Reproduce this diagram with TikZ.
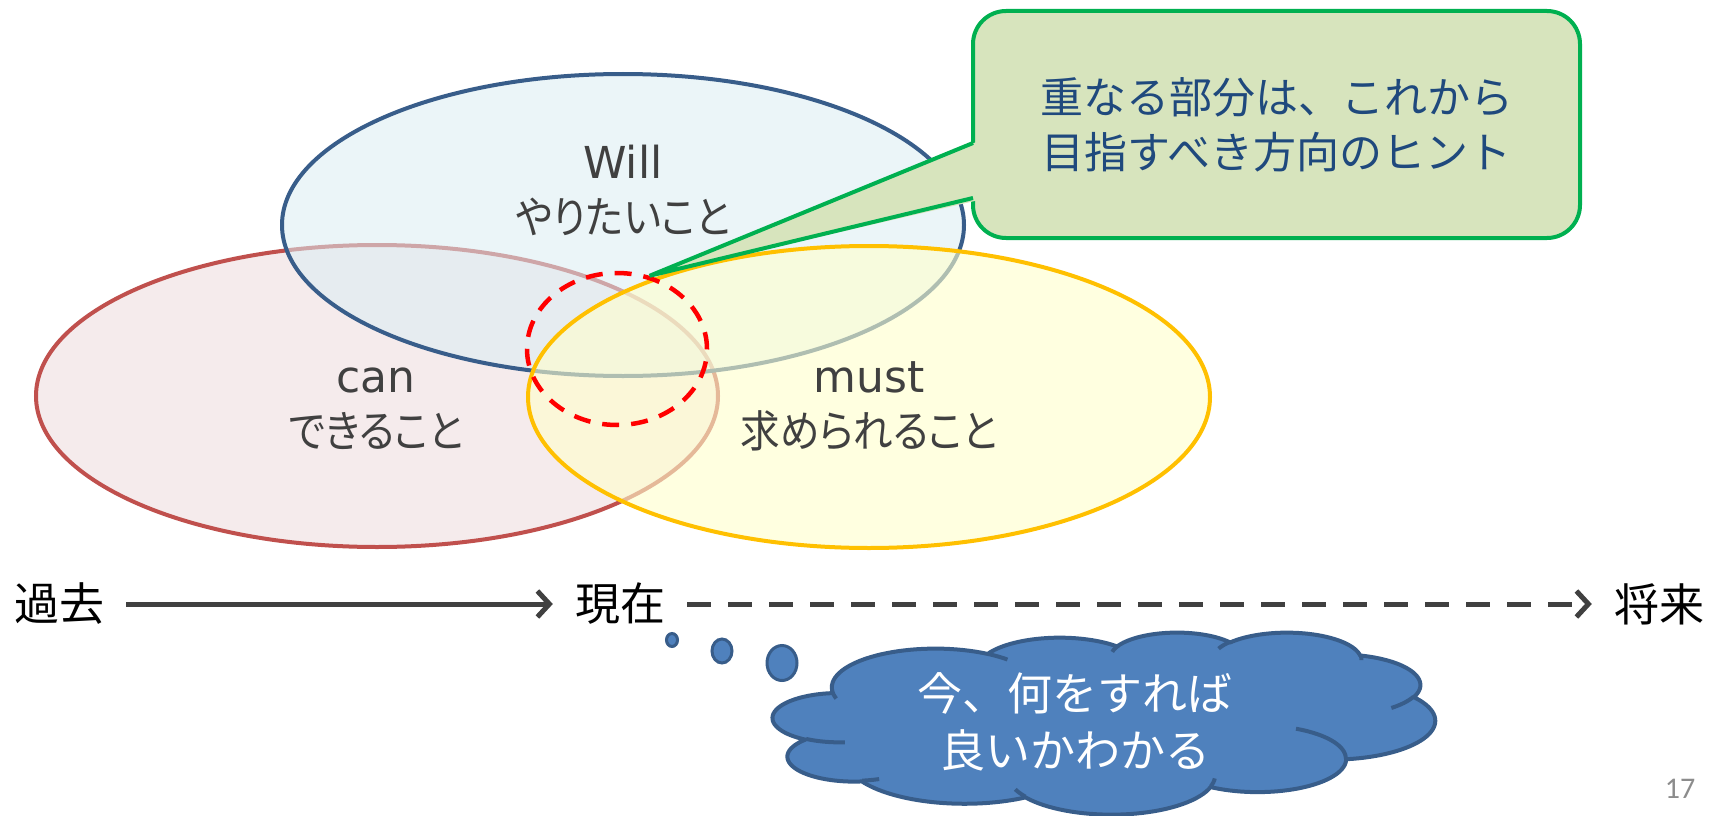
\documentclass[tikz,border=0pt]{standalone}
\usepackage{fontspec}
\usepackage{etoolbox}
\setmainfont{DejaVu Sans}
\newfontfamily\jp{Noto Sans CJK JP}
\newfontfamily\jpp[RawFeature=+palt,FakeStretch=0.9]{Noto Sans CJK JP}
\newfontfamily\numf{Carlito}
\usetikzlibrary{shapes.geometric,arrows.meta}
\definecolor{canB}{HTML}{C0504D}
\definecolor{canF}{HTML}{F5EBEC}
\definecolor{willB}{HTML}{385D8A}
\definecolor{willF}{HTML}{DBEEF4}
\definecolor{mustB}{HTML}{FFC000}
\definecolor{mustF}{HTML}{FFFFCC}
\definecolor{callB}{HTML}{00B050}
\definecolor{callF}{HTML}{D7E4BD}
\definecolor{callT}{HTML}{1F497D}
\definecolor{arrowC}{HTML}{404040}
\definecolor{labelC}{HTML}{404040}
\definecolor{cloudF}{HTML}{4F81BD}
\definecolor{cloudB}{HTML}{385D8A}
\definecolor{pageC}{HTML}{8C8C8C}
\tikzset{
  venn/.style={ellipse, minimum width=682pt, minimum height=302pt, inner sep=0pt, line width=4pt},
  vennlabel/.style={anchor=base, align=center, text=labelC, font=\fontsize{44}{55}\selectfont},
  callbox/.style={rectangle, rounded corners=33pt, draw=callB, fill=callF, line width=4pt,
    minimum width=607pt, minimum height=227pt, inner sep=0pt, align=center, text=callT,
    font=\jp\fontsize{43}{55}\selectfont},
  timelabel/.style={font=\jp\fontsize{45}{54}\selectfont, inner xsep=22pt, inner ysep=0pt, text=black},
  timearrow/.style={line width=5pt, draw=arrowC,
    -{Straight Barb[length=12pt,width=26pt,line width=5pt]}},
  bubble/.style={ellipse, draw=cloudB, fill=cloudF, line width=3pt, inner sep=0pt},
  cloudline/.style={draw=cloudB, line width=4pt, line join=round},
}
% --- cloud outline built from elliptical arcs (visual angles) ---
\def\cloudpath{}
\def\cloudinner{}
\newcommand\carcdo[4]{% wR hR stAng swAng ; uses \px,\py ; sets \ccx,\ccy,\ta,\te
  \pgfmathsetmacro\ta{atan2((#1)*sin(#3),(#2)*cos(#3))}%
  \pgfmathsetmacro\tb{atan2((#1)*sin(#3+#4),(#2)*cos(#3+#4))}%
  \pgfmathsetmacro\dd{\tb-\ta}%
  \pgfmathsetmacro\dd{ifthenelse(and(#4>0,\dd<0),\dd+360,ifthenelse(and(#4<0,\dd>0),\dd-360,\dd))}%
  \pgfmathsetmacro\ccx{\px-(#1)*cos(\ta)}%
  \pgfmathsetmacro\ccy{\py-(#2)*sin(\ta)}%
  \pgfmathsetmacro\te{\ta+\dd}%
}
\newcommand\carc[4]{%
  \carcdo{#1}{#2}{#3}{#4}%
  \xappto\cloudpath{ -- plot[domain=\ta:\te,samples=36,variable=\noexpand\cv]
    ({\ccx+(#1)*cos(\noexpand\cv)},{\ccy+(#2)*sin(\noexpand\cv)})}%
  \pgfmathsetmacro\px{\ccx+(#1)*cos(\te)}%
  \pgfmathsetmacro\py{\ccy+(#2)*sin(\te)}%
}
\newcommand\cinner[6]{% x y wR hR stAng swAng
  \def\px{#1}\def\py{#2}%
  \carcdo{#3}{#4}{#5}{#6}%
  \xappto\cloudinner{ plot[domain=\ta:\te,samples=20,variable=\noexpand\cv]
    ({\ccx+(#3)*cos(\noexpand\cv)},{\ccy+(#4)*sin(\noexpand\cv)})}%
}
\begin{document}
\begin{tikzpicture}[x=1pt,y=-1pt]
\useasboundingbox (0,0) rectangle (1725,816);
\fill[white] (0,0) rectangle (1725,816);

% Venn ellipses
\node[venn, draw=canB, fill=canF] (can) at (377,396) {};
\node[venn, draw=willB, fill=willF, fill opacity=0.55, draw opacity=1] (will) at (623,225) {};
\node[venn, draw=mustB, fill=mustF, fill opacity=0.6, draw opacity=1] (must) at (869,397) {};

% hint circle
\node[ellipse, draw=red, line width=4.5pt, dash pattern=on 17pt off 12pt,
  minimum width=180pt, minimum height=152pt, inner sep=0pt] (hint) at (617,349) {};

% callout
\node[callbox] (call) at (1276.5,124.5) {重なる部分は、これから\\目指すべき方向のヒント};
\coordinate (ta) at (973,143);
\coordinate (tb) at (973,198);
\fill[callF] (hint.66) -- (979,141) -- (979,200) -- cycle;
\draw[callB, line width=4pt, line join=miter] (ta) -- (hint.66) -- (tb);

% venn labels
\node[vennlabel] (willT) at (623,233) {Will\\{\jpp やりたいこと}};
\node[vennlabel] (canT) at (376,447) {can\\{\jpp できること}};
\node[vennlabel] (mustT) at (869,447) {must\\{\jpp 求められること}};

% timeline
\node[timelabel] (past) at (59,604) {過去};
\node[timelabel] (now) at (620,604) {現在};
\node[timelabel] (future) at (1659,604) {将来};
\draw[timearrow] (past) -- (now);
\draw[timearrow, dash pattern=on 24pt off 17pt] (now) -- (future);

% thought bubbles
\node[bubble, minimum width=11pt, minimum height=13pt] (b1) at (672,640) {};
\node[bubble, minimum width=20pt, minimum height=24pt] (b2) at (722,651) {};
\node[bubble, minimum width=30pt, minimum height=35pt] (b3) at (782,663) {};

% cloud (432 x 432 grid scaled to the box 773..1435 x 632..814)
\def\px{39.00}\def\py{143.70}
\carc{67.53}{91.90}{-190.4875}{123.7805}
\carc{53.33}{72.67}{-144.1024}{89.9452}
\carc{43.65}{59.45}{-145.8079}{99.7230}
\carc{48.57}{65.95}{-130.9861}{117.2417}
\carc{53.33}{72.73}{-78.7089}{109.0269}
\carc{67.75}{92.20}{-46.2673}{130.2690}
\carc{57.85}{78.67}{0.6250}{114.0333}
\carc{67.52}{92.15}{22.4516}{115.1726}
\carc{77.20}{105.43}{66.2426}{75.7110}
\carc{43.60}{59.18}{-274.9421}{146.7356}
\carc{43.45}{59.45}{-246.8285}{152.5189}
\cinner{46.93}{261.77}{43.45}{59.45}{86.7420}{26.4295}
\cinner{69.28}{348.99}{43.60}{59.18}{73.6105}{11.4475}
\cinner{164.78}{390.90}{67.52}{92.15}{137.6242}{14.0811}
\cinner{288.27}{347.51}{67.52}{92.15}{6.4533}{15.9984}
\cinner{341.29}{229.54}{57.85}{78.67}{-70.2924}{70.9174}
\cinner{417.98}{153.54}{53.33}{72.73}{30.3180}{27.7515}
\cinner{383.24}{54.26}{48.57}{65.95}{-13.7443}{14.8589}
\cinner{290.78}{39.52}{48.57}{65.95}{-149.1815}{18.1954}
\cinner{221.41}{47.20}{43.65}{59.45}{-163.4943}{19.0115}
\cinner{140.00}{51.92}{67.53}{91.90}{-66.7070}{12.3194}
\cinner{41.27}{157.89}{67.53}{91.90}{157.6544}{11.8582}
\begin{scope}[shift={(773,632)}, x=1.5324pt, y=-0.4213pt]
  \path[cloudline, fill=cloudF] (39.00,143.70) \cloudpath -- cycle;
  \path[cloudline] \cloudinner;
\end{scope}
\node[anchor=base, align=center, text=white, font=\jp\fontsize{45}{57}\selectfont] (clT)
  at (1075,767) {今、何をすれば\\良いかわかる};

% page number
\node[font=\numf\fontsize{30}{36}\selectfont, text=pageC] (pg) at (1680,789) {17};
\end{tikzpicture}
\end{document}
